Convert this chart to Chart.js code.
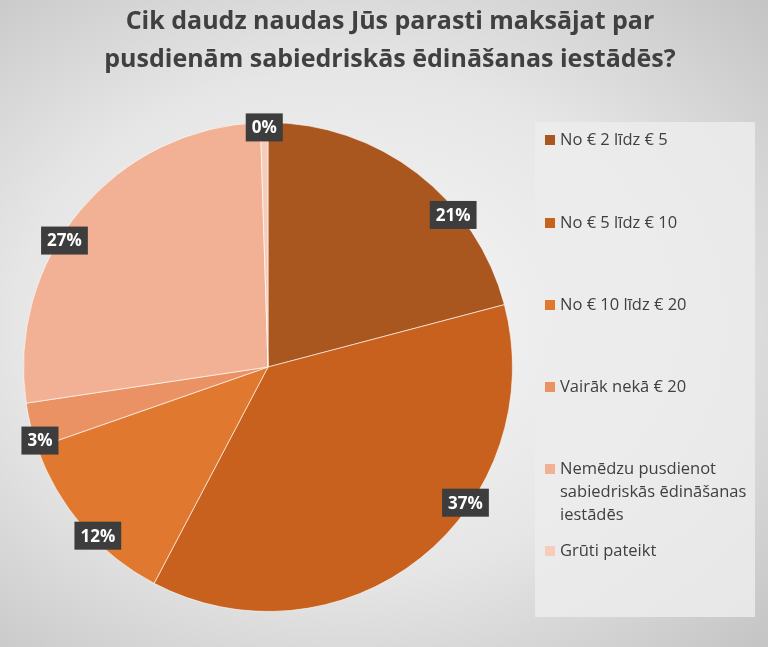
<!DOCTYPE html>
<html><head><meta charset="utf-8">
<script src="https://cdn.jsdelivr.net/npm/chart.js@4"></script>
<style>
html,body{margin:0;padding:0;}
body{width:768px;height:647px;background:radial-gradient(ellipse at 45% 50%, #f7f7f7 0%, #e6e6e6 55%, #c4c4c4 100%);}
canvas{display:block;}
</style></head>
<body>
<canvas id="c" width="768" height="647"></canvas>
<script>
const titleLines = ["Cik daudz naudas Jūs parasti maksājat par", "pusdienām sabiedriskās ēdināšanas iestādēs?"];
const categories = ["No € 2 līdz € 5", "No € 5 līdz € 10", "No € 10 līdz € 20", "Vairāk nekā € 20", "Nemēdzu pusdienot sabiedriskās ēdināšanas iestādēs", "Grūti pateikt"];
const legendLines = [["No € 2 līdz € 5"], ["No € 5 līdz € 10"], ["No € 10 līdz € 20"], ["Vairāk nekā € 20"], ["Nemēdzu pusdienot", "sabiedriskās ēdināšanas", "iestādēs"], ["Grūti pateikt"]];
const values = [21, 37, 12, 3, 27, 0.5];
const valueLabels = ["21%", "37%", "12%", "3%", "27%", "0%"];
const colors = ["#A9561F", "#C8601E", "#E0792F", "#EB9265", "#F2B194", "#F6CDBB"];
const labelAngleShift = [13, -17, -4, -4, -8, 0];

const deco = {
  id: 'deco',
  beforeDraw(chart) {
    const ctx = chart.ctx;
    ctx.save();
    ctx.fillStyle = 'rgba(236,236,236,0.85)';
    ctx.fillRect(535, 122, 220, 495);
    ctx.restore();
  },
  afterDraw(chart) {
    const ctx = chart.ctx;
    ctx.save();
    ctx.fillStyle = '#404040';
    ctx.font = 'bold 25px "Open Sans", "DejaVu Sans", sans-serif';
    ctx.textAlign = 'center';
    ctx.textBaseline = 'middle';
    ctx.fillText(titleLines[0], 390, 22);
    ctx.fillText(titleLines[1], 390, 60);
    const ys = [140, 223, 305, 387, 469, 551];
    ctx.textAlign = 'left';
    ctx.font = '16.5px "Open Sans", "DejaVu Sans", sans-serif';
    legendLines.forEach((lines, i) => {
      ctx.fillStyle = colors[i];
      ctx.fillRect(545, ys[i] - 5, 10, 10);
      ctx.fillStyle = '#404040';
      lines.forEach((t, j) => ctx.fillText(t, 560, ys[i] + j * 23));
    });
    const meta = chart.getDatasetMeta(0);
    ctx.font = 'bold 17px "Open Sans", "DejaVu Sans", sans-serif';
    ctx.textAlign = 'center';
    meta.data.forEach((arc, i) => {
      const p = arc.getProps(['x','y','startAngle','endAngle','outerRadius'], true);
      const a = (p.startAngle + p.endAngle) / 2 + labelAngleShift[i] * Math.PI / 180;
      const r = p.outerRadius * 0.98;
      const x = p.x + Math.cos(a) * r, y = p.y + Math.sin(a) * r;
      const t = valueLabels[i];
      const w = ctx.measureText(t).width + 12;
      ctx.fillStyle = '#3d3d3d';
      ctx.fillRect(x - w / 2, y - 14, w, 28);
      ctx.fillStyle = '#ffffff';
      ctx.fillText(t, x, y + 1);
    });
    ctx.restore();
  }
};

new Chart(document.getElementById('c'), {
  type: 'pie',
  data: { labels: categories, datasets: [{ data: values, backgroundColor: colors, borderColor: 'rgba(255,255,255,0.6)', borderWidth: 1 }] },
  options: {
    responsive: false, animation: false,
    layout: { padding: { left: 23, right: 255, top: 122, bottom: 35 } },
    plugins: { legend: { display: false }, tooltip: { enabled: false }, title: { display: false } }
  },
  plugins: [deco]
});
</script>
</body></html>
